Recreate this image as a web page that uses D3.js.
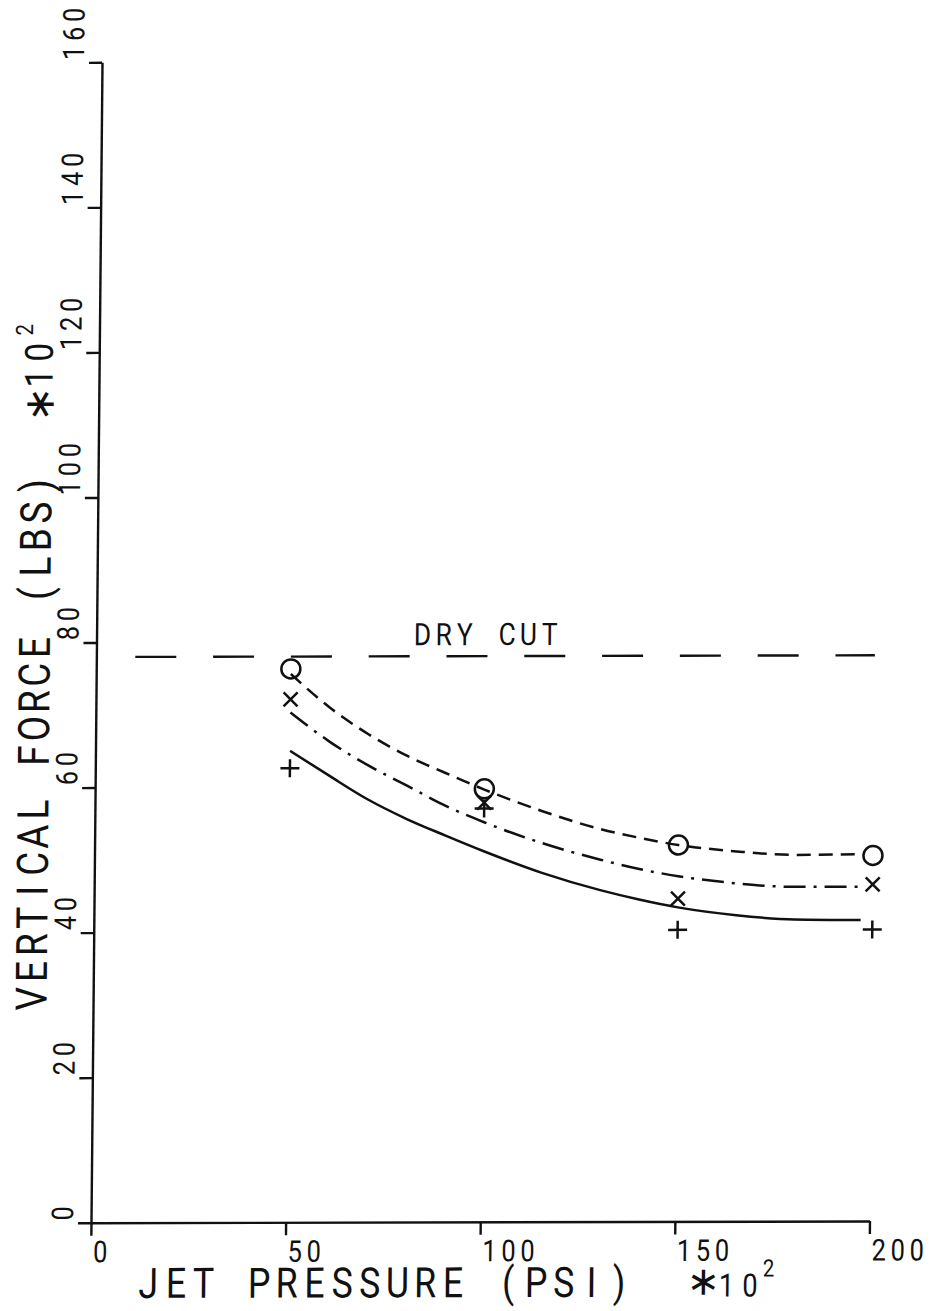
<!DOCTYPE html>
<html>
<head>
<meta charset="utf-8">
<script src="https://cdn.jsdelivr.net/npm/d3@7"></script>
<style>
  html, body { margin: 0; padding: 0; background: #fff; }
  svg { display: block; }
  text { font-family: Roboto, "DejaVu Sans", sans-serif; font-weight: 400; fill: #111; }
  text.star { font-family: "DejaVu Sans", sans-serif; }
</style>
</head>
<body>
<svg id="chart" width="931" height="1311"></svg>
<script>
// Axis ticks
const xTicks = [0, 50, 100, 150, 200];
const yTicks = [0, 20, 40, 60, 80, 100, 120, 140, 160];

// Measured points: jet pressure (x10^2 psi) vs vertical force (x10^2 lbs)
const pressure = [50, 100, 150, 200];
const forceCircle = [76.3, 59.7, 51.9, 50.4];
const forceCross = [72.1, 57.8, 44.5, 46.4];
const forcePlus = [62.6, 57.0, 40.2, 40.2];

// Fitted curves through each set
const fitPressure = [50, 60, 70, 80, 90, 100, 115, 130, 140, 150, 165, 180, 197];
const fitCircle = [75.6, 71.0, 67.3, 64.3, 61.9, 59.6, 56.6, 54.1, 52.9, 51.9, 51.0, 50.5, 50.6];
const fitCross = [70.3, 66.3, 63.0, 60.2, 57.4, 55.1, 52.2, 49.9, 48.6, 47.6, 46.6, 46.1, 46.1];
const fitPlus = [65.0, 61.6, 58.3, 55.6, 53.3, 51.1, 48.1, 45.7, 44.4, 43.3, 42.2, 41.6, 41.5];

// Dry-cut reference level
const dryCutForce = 78;
const dryCutPressure = [10, 200];
const dryCutLabel = "DRY CUT";
const dryCutLabelPressure = 81;

const xTitle = "JET PRESSURE (PSI)";
const yTitle = "VERTICAL FORCE (LBS)";
const scaleStar = "\u2217";
const scaleNote = "10";
const scaleExp = "2";

const svg = d3.select("#chart");
const ink = "#111";

const x = d3.scaleLinear().domain([0, 200]).range([91, 869.5]);
const y = d3.scaleLinear().domain([0, 160]).range([1222.7, 62.3]);

// Plotter sheet is slightly sheared
const root = svg.append("g")
  .attr("transform", "matrix(1,-0.0022,-0.0095,1,11.6,0.2)");

// Monospaced plotter-style text: each glyph centred in its own cell,
// glyphs narrowed horizontally by `sq`
function mono(parent, str, x0, y0, advance, size, rotated, sq = 0.85, dy = 0) {
  const xs = [], chars = [];
  for (let i = 0; i < str.length; i++) {
    if (str[i] === " ") continue;
    chars.push(str[i]);
    xs.push((advance * (i + 0.5) / sq).toFixed(2));
  }
  const t = parent.append("text")
    .attr("text-anchor", "middle")
    .attr("font-size", size)
    .attr("x", xs.join(" "))
    .attr("y", dy)
    .text(chars.join(""));
  t.attr("transform", (rotated
    ? `translate(${x0},${y0}) rotate(-90)`
    : `translate(${x0},${y0})`) + ` scale(${sq},1)`);
  return t;
}

// Axes
const axisStyle = g => {
  g.select(".domain").attr("stroke", ink).attr("stroke-width", 2.4);
  g.selectAll(".tick line").attr("stroke", ink).attr("stroke-width", 2.4);
  g.selectAll(".tick text").remove();
};
root.append("g")
  .attr("transform", `translate(0,${y(0)})`)
  .call(d3.axisBottom(x).tickValues(xTicks).tickSize(13).tickSizeOuter(0).tickFormat(""))
  .call(axisStyle);
root.append("g")
  .attr("transform", `translate(${x(0)},0)`)
  .call(d3.axisLeft(y).tickValues(yTicks).tickSize(13).tickSizeOuter(0).tickFormat(""))
  .call(axisStyle);

// Tick labels
xTicks.forEach(t => mono(root, String(t), x(t), y(0) + 39.5, 19, 30, false));
yTicks.forEach(t => mono(root, String(t), x(0) - 18, y(t), 19, 30, true));

// Axis titles
mono(root, xTitle, 135, 1298, 27.7, 42, false);
mono(root, scaleStar, 692, 1296, 24, 40, false, 1).attr("class", "star");
mono(root, scaleNote, 715.5, 1298, 23.5, 32, false);
mono(root, scaleExp, 763, 1278, 12, 24, false);

mono(root, yTitle, 44.5, 1012, 27, 43.5, true);
mono(root, scaleStar, 46, 417, 26, 42, true, 1).attr("class", "star");
mono(root, scaleNote, 44.5, 391, 26, 39, true);
mono(root, scaleExp, 24.5, 336, 13, 24, true);

// Dry-cut level
root.append("line")
  .attr("x1", x(dryCutPressure[0])).attr("x2", x(dryCutPressure[1]))
  .attr("y1", y(dryCutForce)).attr("y2", y(dryCutForce))
  .attr("stroke", ink).attr("stroke-width", 2.4)
  .attr("stroke-dasharray", "41 36.8");
mono(root, dryCutLabel, x(dryCutLabelPressure), y(dryCutForce) - 11, 21.2, 31, false);

// Fitted curves
const line = d3.line().x(d => x(d[0])).y(d => y(d[1])).curve(d3.curveMonotoneX);
const curves = [
  { vals: fitCircle, dash: "14 8" },
  { vals: fitCross, dash: "22 8 3 8" },
  { vals: fitPlus, dash: null }
];
curves.forEach(c => {
  root.append("path")
    .datum(fitPressure.map((p, i) => [p, c.vals[i]]))
    .attr("d", line)
    .attr("fill", "none")
    .attr("stroke", ink)
    .attr("stroke-width", 2.5)
    .attr("stroke-dasharray", c.dash);
});

// Markers
const marks = root.append("g").attr("stroke", ink).attr("stroke-width", 2.5).attr("fill", "none");
pressure.forEach((p, i) => {
  marks.append("circle").attr("cx", x(p)).attr("cy", y(forceCircle[i])).attr("r", 9.5);

  const cx = x(p), cy = y(forceCross[i]), a = 7;
  marks.append("path").attr("d", `M${cx - a},${cy - a}L${cx + a},${cy + a}M${cx - a},${cy + a}L${cx + a},${cy - a}`);

  const px = x(p), py = y(forcePlus[i]);
  marks.append("path").attr("d", `M${px - 9.5},${py}L${px + 9.5},${py}M${px},${py - 9}L${px},${py + 9}`);
});
</script>
</body>
</html>
